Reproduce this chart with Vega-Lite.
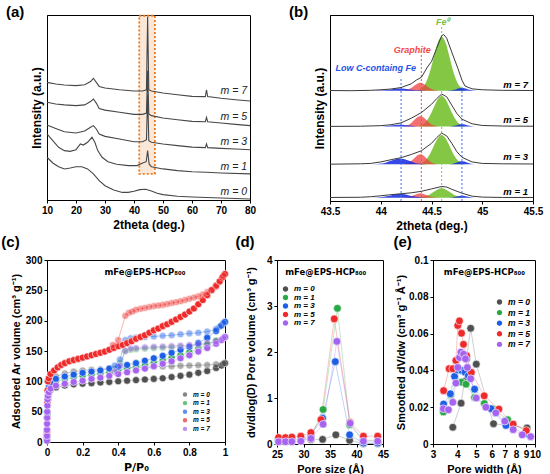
{
  "$schema": "https://vega.github.io/schema/vega-lite/v6.json",
  "background": "white",
  "padding": {"left": 0, "top": 4, "right": 2, "bottom": 0},
  "config": {
    "font": "Liberation Sans",
    "view": {"stroke": "#000", "strokeWidth": 1},
    "axis": {"grid": false, "domainColor": "#000", "tickColor": "#000", "labelColor": "#000", "titleColor": "#000",
      "labelFontWeight": "bold", "titleFontWeight": "bold", "labelFontSize": 10, "titleFontSize": 12, "tickSize": 3,
      "labelOverlap": false, "labelFlush": false, "labelBound": false, "minExtent": 0},
    "axisX": {"labelFlush": false, "labelOverlap": false},
    "axisY": {"minExtent": 0, "labelOverlap": false},
    "title": {"anchor": "start", "frame": "bounds", "fontSize": 15, "fontWeight": "bold", "color": "#000"},
    "legend": {"labelFontWeight": "bold", "labelFontStyle": "italic", "labelColor": "#000", "symbolType": "circle", "title": null, "padding": 0}
  },
  "datasets": {
    "box": [{"x1": 41.8, "x2": 47.2, "y1": 14.1, "y2": 99.6}],
    "xrd": [
      {"s":"7","x":10,"y":63.6},{"s":"7","x":13,"y":62.7},{"s":"7","x":16,"y":62.2},{"s":"7","x":20,"y":61.8},{"s":"7","x":23,"y":62.3},{"s":"7","x":25,"y":64.0},{"s":"7","x":26,"y":65.8},{"s":"7","x":27,"y":63.6},{"s":"7","x":28,"y":61.4},{"s":"7","x":30,"y":60.5},{"s":"7","x":35,"y":59.6},{"s":"7","x":40,"y":58.9},{"s":"7","x":43,"y":58.9},{"s":"7","x":44.3,"y":59.6},{"s":"7","x":44.7,"y":99},{"s":"7","x":45.1,"y":59.6},{"s":"7","x":46,"y":58.9},{"s":"7","x":50,"y":57.8},{"s":"7","x":55,"y":56.9},{"s":"7","x":60,"y":56.0},{"s":"7","x":64.6,"y":55.9},{"s":"7","x":65,"y":59.6},{"s":"7","x":65.4,"y":55.9},{"s":"7","x":70,"y":55.0},{"s":"7","x":75,"y":54.2},{"s":"7","x":80,"y":53.5},
      {"s":"5","x":10,"y":52.8},{"s":"5","x":13,"y":51.9},{"s":"5","x":16,"y":51.4},{"s":"5","x":20,"y":51},{"s":"5","x":23,"y":51.4},{"s":"5","x":25,"y":53.2},{"s":"5","x":26,"y":54.6},{"s":"5","x":27,"y":52.4},{"s":"5","x":28,"y":49.5},{"s":"5","x":30,"y":48.6},{"s":"5","x":35,"y":47.4},{"s":"5","x":40,"y":46.3},{"s":"5","x":43,"y":46.3},{"s":"5","x":44.3,"y":47},{"s":"5","x":44.7,"y":70},{"s":"5","x":45.1,"y":46.5},{"s":"5","x":46,"y":45.6},{"s":"5","x":50,"y":44.3},{"s":"5","x":55,"y":43.4},{"s":"5","x":60,"y":42.5},{"s":"5","x":64.6,"y":42.3},{"s":"5","x":65,"y":44.7},{"s":"5","x":65.4,"y":42.3},{"s":"5","x":70,"y":41.6},{"s":"5","x":75,"y":40.9},{"s":"5","x":80,"y":40.2},
      {"s":"3","x":10,"y":40.5},{"s":"3","x":13,"y":38.7},{"s":"3","x":16,"y":36.9},{"s":"3","x":20,"y":36.2},{"s":"3","x":23,"y":37.3},{"s":"3","x":25,"y":39.3},{"s":"3","x":26,"y":40.2},{"s":"3","x":27,"y":38.4},{"s":"3","x":28,"y":35.7},{"s":"3","x":30,"y":34.4},{"s":"3","x":35,"y":33},{"s":"3","x":40,"y":31.5},{"s":"3","x":43,"y":31.5},{"s":"3","x":44.3,"y":32.6},{"s":"3","x":44.7,"y":57},{"s":"3","x":45.1,"y":32.1},{"s":"3","x":46,"y":31.2},{"s":"3","x":50,"y":30.3},{"s":"3","x":55,"y":29.4},{"s":"3","x":60,"y":28.6},{"s":"3","x":64.6,"y":28.3},{"s":"3","x":65,"y":30.3},{"s":"3","x":65.4,"y":28.3},{"s":"3","x":70,"y":27.9},{"s":"3","x":75,"y":27.6},{"s":"3","x":80,"y":27.2},
      {"s":"1","x":10,"y":35.7},{"s":"1","x":12,"y":32.1},{"s":"1","x":14,"y":28.5},{"s":"1","x":16,"y":26.7},{"s":"1","x":18,"y":26.3},{"s":"1","x":20,"y":27.2},{"s":"1","x":21.5,"y":30.3},{"s":"1","x":22.5,"y":29.7},{"s":"1","x":24,"y":31.2},{"s":"1","x":25.5,"y":33.9},{"s":"1","x":26.5,"y":31.2},{"s":"1","x":27.5,"y":26.7},{"s":"1","x":29,"y":23.1},{"s":"1","x":31,"y":20.7},{"s":"1","x":34,"y":19.3},{"s":"1","x":38,"y":18.6},{"s":"1","x":41,"y":18.6},{"s":"1","x":43,"y":20},{"s":"1","x":44.2,"y":20.7},{"s":"1","x":44.7,"y":26.7},{"s":"1","x":45.2,"y":19.5},{"s":"1","x":46,"y":18},{"s":"1","x":50,"y":16.8},{"s":"1","x":55,"y":15.9},{"s":"1","x":60,"y":15.3},{"s":"1","x":65,"y":15},{"s":"1","x":70,"y":14.6},{"s":"1","x":80,"y":14.1},
      {"s":"0","x":10,"y":23.1},{"s":"0","x":12,"y":20},{"s":"0","x":14,"y":18},{"s":"0","x":16,"y":16.8},{"s":"0","x":18,"y":17.3},{"s":"0","x":20,"y":18},{"s":"0","x":22,"y":18},{"s":"0","x":24,"y":16.8},{"s":"0","x":26,"y":14.1},{"s":"0","x":28,"y":10.5},{"s":"0","x":30,"y":7.7},{"s":"0","x":33,"y":5.4},{"s":"0","x":36,"y":4.1},{"s":"0","x":38,"y":4.1},{"s":"0","x":40,"y":4.7},{"s":"0","x":42,"y":5.6},{"s":"0","x":44,"y":5.8},{"s":"0","x":46,"y":4.9},{"s":"0","x":48,"y":3.6},{"s":"0","x":50,"y":2.9},{"s":"0","x":55,"y":2},{"s":"0","x":60,"y":1.6},{"s":"0","x":70,"y":1.1},{"s":"0","x":80,"y":0.5}
    ],
    "xrdlab": [
      {"t":"m = 7","x":79,"y":59.1},{"t":"m = 5","x":79,"y":44.7},{"t":"m = 3","x":79,"y":31.5},{"t":"m = 1","x":79,"y":17.7},{"t":"m = 0","x":79,"y":4.5}
    ],
    "fit": [
      {"m":"7","c":"g","x":44.36,"y":59.3,"b":59.3},{"m":"7","c":"g","x":44.44,"y":63.2,"b":59.3},{"m":"7","c":"g","x":44.48,"y":68.7,"b":59.3},{"m":"7","c":"g","x":44.52,"y":76.9,"b":59.3},{"m":"7","c":"g","x":44.56,"y":84.9,"b":59.3},{"m":"7","c":"g","x":44.6,"y":88.3,"b":59.3},{"m":"7","c":"g","x":44.64,"y":84.9,"b":59.3},{"m":"7","c":"g","x":44.68,"y":76.9,"b":59.3},{"m":"7","c":"g","x":44.72,"y":68.7,"b":59.3},{"m":"7","c":"g","x":44.76,"y":63.2,"b":59.3},{"m":"7","c":"g","x":44.84,"y":59.3,"b":59.3},
      {"m":"7","c":"r","x":44.21,"y":59.3,"b":59.3},{"m":"7","c":"r","x":44.27,"y":59.9,"b":59.3},{"m":"7","c":"r","x":44.3,"y":60.7,"b":59.3},{"m":"7","c":"r","x":44.33,"y":61.9,"b":59.3},{"m":"7","c":"r","x":44.36,"y":63.1,"b":59.3},{"m":"7","c":"r","x":44.39,"y":63.6,"b":59.3},{"m":"7","c":"r","x":44.42,"y":63.1,"b":59.3},{"m":"7","c":"r","x":44.45,"y":61.9,"b":59.3},{"m":"7","c":"r","x":44.48,"y":60.7,"b":59.3},{"m":"7","c":"r","x":44.51,"y":59.9,"b":59.3},{"m":"7","c":"r","x":44.57,"y":59.3,"b":59.3},
      {"m":"7","c":"b1","x":43.92,"y":59.3,"b":59.3},{"m":"7","c":"b1","x":44.01,"y":59.5,"b":59.3},{"m":"7","c":"b1","x":44.055,"y":59.7,"b":59.3},{"m":"7","c":"b1","x":44.1,"y":60.0,"b":59.3},{"m":"7","c":"b1","x":44.145,"y":60.4,"b":59.3},{"m":"7","c":"b1","x":44.19,"y":60.5,"b":59.3},{"m":"7","c":"b1","x":44.235,"y":60.4,"b":59.3},{"m":"7","c":"b1","x":44.28,"y":60.0,"b":59.3},{"m":"7","c":"b1","x":44.325,"y":59.7,"b":59.3},{"m":"7","c":"b1","x":44.37,"y":59.5,"b":59.3},{"m":"7","c":"b1","x":44.46,"y":59.3,"b":59.3},
      {"m":"7","c":"b2","x":44.65,"y":59.3,"b":59.3},{"m":"7","c":"b2","x":44.7,"y":59.5,"b":59.3},{"m":"7","c":"b2","x":44.725,"y":59.8,"b":59.3},{"m":"7","c":"b2","x":44.75,"y":60.2,"b":59.3},{"m":"7","c":"b2","x":44.775,"y":60.6,"b":59.3},{"m":"7","c":"b2","x":44.8,"y":60.8,"b":59.3},{"m":"7","c":"b2","x":44.825,"y":60.6,"b":59.3},{"m":"7","c":"b2","x":44.85,"y":60.2,"b":59.3},{"m":"7","c":"b2","x":44.875,"y":59.8,"b":59.3},{"m":"7","c":"b2","x":44.9,"y":59.5,"b":59.3},{"m":"7","c":"b2","x":44.95,"y":59.3,"b":59.3},
      {"m":"5","c":"g","x":44.36,"y":40,"b":40},{"m":"5","c":"g","x":44.44,"y":42.2,"b":40},{"m":"5","c":"g","x":44.48,"y":45.4,"b":40},{"m":"5","c":"g","x":44.52,"y":50.0,"b":40},{"m":"5","c":"g","x":44.56,"y":54.6,"b":40},{"m":"5","c":"g","x":44.6,"y":56.5,"b":40},{"m":"5","c":"g","x":44.64,"y":54.6,"b":40},{"m":"5","c":"g","x":44.68,"y":50.0,"b":40},{"m":"5","c":"g","x":44.72,"y":45.4,"b":40},{"m":"5","c":"g","x":44.76,"y":42.2,"b":40},{"m":"5","c":"g","x":44.84,"y":40,"b":40},
      {"m":"5","c":"r","x":44.21,"y":40,"b":40},{"m":"5","c":"r","x":44.27,"y":40.8,"b":40},{"m":"5","c":"r","x":44.3,"y":41.9,"b":40},{"m":"5","c":"r","x":44.33,"y":43.5,"b":40},{"m":"5","c":"r","x":44.36,"y":45.0,"b":40},{"m":"5","c":"r","x":44.39,"y":45.7,"b":40},{"m":"5","c":"r","x":44.42,"y":45.0,"b":40},{"m":"5","c":"r","x":44.45,"y":43.5,"b":40},{"m":"5","c":"r","x":44.48,"y":41.9,"b":40},{"m":"5","c":"r","x":44.51,"y":40.8,"b":40},{"m":"5","c":"r","x":44.57,"y":40,"b":40},
      {"m":"5","c":"b1","x":43.92,"y":40,"b":40},{"m":"5","c":"b1","x":44.01,"y":40.1,"b":40},{"m":"5","c":"b1","x":44.055,"y":40.3,"b":40},{"m":"5","c":"b1","x":44.1,"y":40.6,"b":40},{"m":"5","c":"b1","x":44.145,"y":40.9,"b":40},{"m":"5","c":"b1","x":44.19,"y":41,"b":40},{"m":"5","c":"b1","x":44.235,"y":40.9,"b":40},{"m":"5","c":"b1","x":44.28,"y":40.6,"b":40},{"m":"5","c":"b1","x":44.325,"y":40.3,"b":40},{"m":"5","c":"b1","x":44.37,"y":40.1,"b":40},{"m":"5","c":"b1","x":44.46,"y":40,"b":40},
      {"m":"5","c":"b2","x":44.65,"y":40,"b":40},{"m":"5","c":"b2","x":44.7,"y":40.2,"b":40},{"m":"5","c":"b2","x":44.725,"y":40.4,"b":40},{"m":"5","c":"b2","x":44.75,"y":40.7,"b":40},{"m":"5","c":"b2","x":44.775,"y":41.1,"b":40},{"m":"5","c":"b2","x":44.8,"y":41.2,"b":40},{"m":"5","c":"b2","x":44.825,"y":41.1,"b":40},{"m":"5","c":"b2","x":44.85,"y":40.7,"b":40},{"m":"5","c":"b2","x":44.875,"y":40.4,"b":40},{"m":"5","c":"b2","x":44.9,"y":40.2,"b":40},{"m":"5","c":"b2","x":44.95,"y":40,"b":40},
      {"m":"3","c":"g","x":44.36,"y":19.7,"b":19.7},{"m":"3","c":"g","x":44.44,"y":21.8,"b":19.7},{"m":"3","c":"g","x":44.48,"y":24.8,"b":19.7},{"m":"3","c":"g","x":44.52,"y":29.3,"b":19.7},{"m":"3","c":"g","x":44.56,"y":33.6,"b":19.7},{"m":"3","c":"g","x":44.6,"y":35.5,"b":19.7},{"m":"3","c":"g","x":44.64,"y":33.6,"b":19.7},{"m":"3","c":"g","x":44.68,"y":29.3,"b":19.7},{"m":"3","c":"g","x":44.72,"y":24.8,"b":19.7},{"m":"3","c":"g","x":44.76,"y":21.8,"b":19.7},{"m":"3","c":"g","x":44.84,"y":19.7,"b":19.7},
      {"m":"3","c":"r","x":44.21,"y":19.7,"b":19.7},{"m":"3","c":"r","x":44.27,"y":20.4,"b":19.7},{"m":"3","c":"r","x":44.3,"y":21.5,"b":19.7},{"m":"3","c":"r","x":44.33,"y":23.0,"b":19.7},{"m":"3","c":"r","x":44.36,"y":24.5,"b":19.7},{"m":"3","c":"r","x":44.39,"y":25.1,"b":19.7},{"m":"3","c":"r","x":44.42,"y":24.5,"b":19.7},{"m":"3","c":"r","x":44.45,"y":23.0,"b":19.7},{"m":"3","c":"r","x":44.48,"y":21.5,"b":19.7},{"m":"3","c":"r","x":44.51,"y":20.4,"b":19.7},{"m":"3","c":"r","x":44.57,"y":19.7,"b":19.7},
      {"m":"3","c":"b1","x":43.92,"y":19.7,"b":19.7},{"m":"3","c":"b1","x":44.01,"y":20.1,"b":19.7},{"m":"3","c":"b1","x":44.055,"y":20.7,"b":19.7},{"m":"3","c":"b1","x":44.1,"y":21.6,"b":19.7},{"m":"3","c":"b1","x":44.145,"y":22.5,"b":19.7},{"m":"3","c":"b1","x":44.19,"y":22.9,"b":19.7},{"m":"3","c":"b1","x":44.235,"y":22.5,"b":19.7},{"m":"3","c":"b1","x":44.28,"y":21.6,"b":19.7},{"m":"3","c":"b1","x":44.325,"y":20.7,"b":19.7},{"m":"3","c":"b1","x":44.37,"y":20.1,"b":19.7},{"m":"3","c":"b1","x":44.46,"y":19.7,"b":19.7},
      {"m":"3","c":"b2","x":44.65,"y":19.7,"b":19.7},{"m":"3","c":"b2","x":44.7,"y":19.9,"b":19.7},{"m":"3","c":"b2","x":44.725,"y":20.3,"b":19.7},{"m":"3","c":"b2","x":44.75,"y":20.7,"b":19.7},{"m":"3","c":"b2","x":44.775,"y":21.2,"b":19.7},{"m":"3","c":"b2","x":44.8,"y":21.4,"b":19.7},{"m":"3","c":"b2","x":44.825,"y":21.2,"b":19.7},{"m":"3","c":"b2","x":44.85,"y":20.7,"b":19.7},{"m":"3","c":"b2","x":44.875,"y":20.3,"b":19.7},{"m":"3","c":"b2","x":44.9,"y":19.9,"b":19.7},{"m":"3","c":"b2","x":44.95,"y":19.7,"b":19.7},
      {"m":"1","c":"g","x":44.36,"y":1.8,"b":1.8},{"m":"1","c":"g","x":44.44,"y":2.5,"b":1.8},{"m":"1","c":"g","x":44.48,"y":3.4,"b":1.8},{"m":"1","c":"g","x":44.52,"y":4.8,"b":1.8},{"m":"1","c":"g","x":44.56,"y":6.2,"b":1.8},{"m":"1","c":"g","x":44.6,"y":6.8,"b":1.8},{"m":"1","c":"g","x":44.64,"y":6.2,"b":1.8},{"m":"1","c":"g","x":44.68,"y":4.8,"b":1.8},{"m":"1","c":"g","x":44.72,"y":3.4,"b":1.8},{"m":"1","c":"g","x":44.76,"y":2.5,"b":1.8},{"m":"1","c":"g","x":44.84,"y":1.8,"b":1.8},
      {"m":"1","c":"r","x":44.21,"y":1.8,"b":1.8},{"m":"1","c":"r","x":44.27,"y":2.1,"b":1.8},{"m":"1","c":"r","x":44.3,"y":2.6,"b":1.8},{"m":"1","c":"r","x":44.33,"y":3.2,"b":1.8},{"m":"1","c":"r","x":44.36,"y":3.8,"b":1.8},{"m":"1","c":"r","x":44.39,"y":4.1,"b":1.8},{"m":"1","c":"r","x":44.42,"y":3.8,"b":1.8},{"m":"1","c":"r","x":44.45,"y":3.2,"b":1.8},{"m":"1","c":"r","x":44.48,"y":2.6,"b":1.8},{"m":"1","c":"r","x":44.51,"y":2.1,"b":1.8},{"m":"1","c":"r","x":44.57,"y":1.8,"b":1.8},
      {"m":"1","c":"b1","x":43.92,"y":1.8,"b":1.8},{"m":"1","c":"b1","x":44.01,"y":2.1,"b":1.8},{"m":"1","c":"b1","x":44.055,"y":2.5,"b":1.8},{"m":"1","c":"b1","x":44.1,"y":3.0,"b":1.8},{"m":"1","c":"b1","x":44.145,"y":3.6,"b":1.8},{"m":"1","c":"b1","x":44.19,"y":3.8,"b":1.8},{"m":"1","c":"b1","x":44.235,"y":3.6,"b":1.8},{"m":"1","c":"b1","x":44.28,"y":3.0,"b":1.8},{"m":"1","c":"b1","x":44.325,"y":2.5,"b":1.8},{"m":"1","c":"b1","x":44.37,"y":2.1,"b":1.8},{"m":"1","c":"b1","x":44.46,"y":1.8,"b":1.8},
      {"m":"1","c":"b2","x":44.65,"y":1.8,"b":1.8},{"m":"1","c":"b2","x":44.7,"y":1.9,"b":1.8},{"m":"1","c":"b2","x":44.725,"y":2.1,"b":1.8},{"m":"1","c":"b2","x":44.75,"y":2.4,"b":1.8},{"m":"1","c":"b2","x":44.775,"y":2.7,"b":1.8},{"m":"1","c":"b2","x":44.8,"y":2.8,"b":1.8},{"m":"1","c":"b2","x":44.825,"y":2.7,"b":1.8},{"m":"1","c":"b2","x":44.85,"y":2.4,"b":1.8},{"m":"1","c":"b2","x":44.875,"y":2.1,"b":1.8},{"m":"1","c":"b2","x":44.9,"y":1.9,"b":1.8},{"m":"1","c":"b2","x":44.95,"y":1.8,"b":1.8}
    ],
    "meas": [
      {"m":"7","x":43.5,"y":59.4},{"m":"7","x":43.7,"y":59.3},{"m":"7","x":43.9,"y":59.5},{"m":"7","x":44.0,"y":59.8},{"m":"7","x":44.1,"y":60.2},{"m":"7","x":44.2,"y":61.0},{"m":"7","x":44.3,"y":63.0},{"m":"7","x":44.35,"y":65},{"m":"7","x":44.4,"y":66.5},{"m":"7","x":44.46,"y":72},{"m":"7","x":44.5,"y":75},{"m":"7","x":44.55,"y":82},{"m":"7","x":44.6,"y":88.8},{"m":"7","x":44.62,"y":89.5},{"m":"7","x":44.65,"y":87.5},{"m":"7","x":44.7,"y":80},{"m":"7","x":44.76,"y":71.3},{"m":"7","x":44.8,"y":65},{"m":"7","x":44.83,"y":61.8},{"m":"7","x":44.9,"y":60.3},{"m":"7","x":45.0,"y":59.8},{"m":"7","x":45.2,"y":59.5},{"m":"7","x":45.5,"y":59.4},
      {"m":"5","x":43.5,"y":40.1},{"m":"5","x":43.8,"y":40.2},{"m":"5","x":44.0,"y":40.5},{"m":"5","x":44.1,"y":41},{"m":"5","x":44.2,"y":42},{"m":"5","x":44.3,"y":44.5},{"m":"5","x":44.4,"y":47.5},{"m":"5","x":44.5,"y":52},{"m":"5","x":44.55,"y":55},{"m":"5","x":44.6,"y":57.5},{"m":"5","x":44.65,"y":56},{"m":"5","x":44.7,"y":51.5},{"m":"5","x":44.75,"y":47},{"m":"5","x":44.8,"y":44},{"m":"5","x":44.9,"y":41.5},{"m":"5","x":45.0,"y":40.6},{"m":"5","x":45.2,"y":40.3},{"m":"5","x":45.5,"y":40.2},
      {"m":"3","x":43.5,"y":19.8},{"m":"3","x":43.8,"y":20},{"m":"3","x":43.9,"y":20.2},{"m":"3","x":44.0,"y":21},{"m":"3","x":44.1,"y":22.2},{"m":"3","x":44.2,"y":23.3},{"m":"3","x":44.3,"y":25},{"m":"3","x":44.4,"y":27},{"m":"3","x":44.5,"y":31},{"m":"3","x":44.55,"y":34},{"m":"3","x":44.6,"y":36.5},{"m":"3","x":44.65,"y":35},{"m":"3","x":44.7,"y":31},{"m":"3","x":44.75,"y":26.5},{"m":"3","x":44.8,"y":23.5},{"m":"3","x":44.9,"y":21},{"m":"3","x":45.0,"y":20.2},{"m":"3","x":45.2,"y":20},{"m":"3","x":45.5,"y":19.9},
      {"m":"1","x":43.5,"y":1.9},{"m":"1","x":43.8,"y":2.0},{"m":"1","x":43.9,"y":2.3},{"m":"1","x":44.0,"y":2.8},{"m":"1","x":44.1,"y":3.4},{"m":"1","x":44.2,"y":3.9},{"m":"1","x":44.3,"y":4.4},{"m":"1","x":44.4,"y":5.2},{"m":"1","x":44.5,"y":6.5},{"m":"1","x":44.6,"y":7.8},{"m":"1","x":44.65,"y":7.5},{"m":"1","x":44.7,"y":6.3},{"m":"1","x":44.8,"y":4.2},{"m":"1","x":44.9,"y":2.6},{"m":"1","x":45.0,"y":2.1},{"m":"1","x":45.2,"y":1.9},{"m":"1","x":45.5,"y":1.9}
    ],
    "vl": [
      {"x":44.2,"y1":0,"y2":66.8,"c":"#3b6ff0"},{"x":44.4,"y1":0,"y2":79.4,"c":"#f04f4f"},{"x":44.6,"y1":0,"y2":93.7,"c":"#8cc63f"},{"x":44.8,"y1":0,"y2":61.5,"c":"#3b6ff0"}
    ],
    "blab": [
      {"t":"Low C-containg Fe","x":43.95,"y":71.3,"c":"#2453ea"},{"t":"Graphite","x":44.31,"y":81.2,"c":"#f04848"},{"t":"Fe⁰","x":44.61,"y":96.4,"c":"#78c13a"}
    ],
    "mlab": [
      {"t":"m = 7","x":45.45,"y":62.4},{"t":"m = 5","x":45.45,"y":43.5},{"t":"m = 3","x":45.45,"y":23.8},{"t":"m = 1","x":45.45,"y":4.7}
    ],
    "iso": [
      {"s":"0","b":"a","x":0,"y":5},{"s":"0","b":"a","x":0,"y":20},{"s":"0","b":"a","x":0.001,"y":40},{"s":"0","b":"a","x":0.003,"y":60},{"s":"0","b":"a","x":0.005,"y":70},{"s":"0","b":"a","x":0.01,"y":80},{"s":"0","b":"a","x":0.02,"y":86},{"s":"0","b":"a","x":0.05,"y":90},{"s":"0","b":"a","x":0.1,"y":93},{"s":"0","b":"a","x":0.15,"y":95},{"s":"0","b":"a","x":0.2,"y":96},{"s":"0","b":"a","x":0.25,"y":97},{"s":"0","b":"a","x":0.3,"y":98},{"s":"0","b":"a","x":0.35,"y":99},{"s":"0","b":"a","x":0.4,"y":100},{"s":"0","b":"a","x":0.45,"y":101},{"s":"0","b":"a","x":0.5,"y":102},{"s":"0","b":"a","x":0.55,"y":103},{"s":"0","b":"a","x":0.6,"y":104},{"s":"0","b":"a","x":0.65,"y":105},{"s":"0","b":"a","x":0.7,"y":107},{"s":"0","b":"a","x":0.75,"y":109},{"s":"0","b":"a","x":0.8,"y":111},{"s":"0","b":"a","x":0.85,"y":114},{"s":"0","b":"a","x":0.9,"y":117},{"s":"0","b":"a","x":0.95,"y":122},{"s":"0","b":"a","x":0.98,"y":126},{"s":"0","b":"a","x":1.0,"y":130},
      {"s":"0","b":"d","x":0.99,"y":129},{"s":"0","b":"d","x":0.95,"y":128},{"s":"0","b":"d","x":0.9,"y":127},{"s":"0","b":"d","x":0.85,"y":126.5},{"s":"0","b":"d","x":0.8,"y":126},{"s":"0","b":"d","x":0.75,"y":125.5},{"s":"0","b":"d","x":0.7,"y":125},{"s":"0","b":"d","x":0.65,"y":124.5},{"s":"0","b":"d","x":0.6,"y":124},{"s":"0","b":"d","x":0.55,"y":123.5},{"s":"0","b":"d","x":0.5,"y":123},{"s":"0","b":"d","x":0.45,"y":122.5},{"s":"0","b":"d","x":0.4,"y":122},{"s":"0","b":"d","x":0.35,"y":121},{"s":"0","b":"d","x":0.3,"y":120},{"s":"0","b":"d","x":0.25,"y":119},{"s":"0","b":"d","x":0.2,"y":118},{"s":"0","b":"d","x":0.15,"y":116},{"s":"0","b":"d","x":0.1,"y":113},{"s":"0","b":"d","x":0.05,"y":108},{"s":"0","b":"d","x":0.02,"y":103},
      {"s":"1","b":"a","x":0,"y":10},{"s":"1","b":"a","x":0.002,"y":45},{"s":"1","b":"a","x":0.005,"y":70},{"s":"1","b":"a","x":0.01,"y":85},{"s":"1","b":"a","x":0.02,"y":93},{"s":"1","b":"a","x":0.05,"y":100},{"s":"1","b":"a","x":0.1,"y":104},{"s":"1","b":"a","x":0.15,"y":107},{"s":"1","b":"a","x":0.2,"y":109},{"s":"1","b":"a","x":0.25,"y":111},{"s":"1","b":"a","x":0.3,"y":113},{"s":"1","b":"a","x":0.35,"y":115},{"s":"1","b":"a","x":0.4,"y":118},{"s":"1","b":"a","x":0.45,"y":121},{"s":"1","b":"a","x":0.5,"y":124},{"s":"1","b":"a","x":0.55,"y":127},{"s":"1","b":"a","x":0.6,"y":131},{"s":"1","b":"a","x":0.65,"y":135},{"s":"1","b":"a","x":0.7,"y":139},{"s":"1","b":"a","x":0.75,"y":143},{"s":"1","b":"a","x":0.8,"y":148},{"s":"1","b":"a","x":0.85,"y":154},{"s":"1","b":"a","x":0.9,"y":160},{"s":"1","b":"a","x":0.95,"y":167},{"s":"1","b":"a","x":1.0,"y":173},
      {"s":"1","b":"d","x":0.95,"y":166},{"s":"1","b":"d","x":0.9,"y":162},{"s":"1","b":"d","x":0.85,"y":160},{"s":"1","b":"d","x":0.8,"y":158},{"s":"1","b":"d","x":0.75,"y":157},{"s":"1","b":"d","x":0.7,"y":156},{"s":"1","b":"d","x":0.65,"y":155.5},{"s":"1","b":"d","x":0.6,"y":155},{"s":"1","b":"d","x":0.55,"y":154},{"s":"1","b":"d","x":0.5,"y":153},{"s":"1","b":"d","x":0.47,"y":152},{"s":"1","b":"d","x":0.44,"y":150},{"s":"1","b":"d","x":0.41,"y":130},{"s":"1","b":"d","x":0.38,"y":121},
      {"s":"3","b":"a","x":0,"y":10},{"s":"3","b":"a","x":0.002,"y":50},{"s":"3","b":"a","x":0.005,"y":75},{"s":"3","b":"a","x":0.01,"y":90},{"s":"3","b":"a","x":0.02,"y":97},{"s":"3","b":"a","x":0.05,"y":104},{"s":"3","b":"a","x":0.1,"y":108},{"s":"3","b":"a","x":0.15,"y":111},{"s":"3","b":"a","x":0.2,"y":114},{"s":"3","b":"a","x":0.25,"y":116},{"s":"3","b":"a","x":0.3,"y":118},{"s":"3","b":"a","x":0.35,"y":121},{"s":"3","b":"a","x":0.4,"y":124},{"s":"3","b":"a","x":0.45,"y":127},{"s":"3","b":"a","x":0.5,"y":130},{"s":"3","b":"a","x":0.55,"y":134},{"s":"3","b":"a","x":0.6,"y":138},{"s":"3","b":"a","x":0.65,"y":142},{"s":"3","b":"a","x":0.7,"y":147},{"s":"3","b":"a","x":0.75,"y":152},{"s":"3","b":"a","x":0.8,"y":157},{"s":"3","b":"a","x":0.85,"y":163},{"s":"3","b":"a","x":0.9,"y":172},{"s":"3","b":"a","x":0.95,"y":183},{"s":"3","b":"a","x":0.98,"y":192},{"s":"3","b":"a","x":1.0,"y":198},
      {"s":"3","b":"d","x":0.99,"y":196},{"s":"3","b":"d","x":0.97,"y":190},{"s":"3","b":"d","x":0.95,"y":186},{"s":"3","b":"d","x":0.9,"y":182},{"s":"3","b":"d","x":0.85,"y":180},{"s":"3","b":"d","x":0.8,"y":179},{"s":"3","b":"d","x":0.75,"y":177.5},{"s":"3","b":"d","x":0.7,"y":176},{"s":"3","b":"d","x":0.65,"y":175},{"s":"3","b":"d","x":0.6,"y":174},{"s":"3","b":"d","x":0.55,"y":173},{"s":"3","b":"d","x":0.5,"y":172},{"s":"3","b":"d","x":0.47,"y":171},{"s":"3","b":"d","x":0.44,"y":168},{"s":"3","b":"d","x":0.41,"y":136},{"s":"3","b":"d","x":0.38,"y":126},
      {"s":"5","b":"a","x":0,"y":15},{"s":"5","b":"a","x":0.001,"y":40},{"s":"5","b":"a","x":0.002,"y":65},{"s":"5","b":"a","x":0.003,"y":85},{"s":"5","b":"a","x":0.005,"y":100},{"s":"5","b":"a","x":0.01,"y":105},{"s":"5","b":"a","x":0.02,"y":112},{"s":"5","b":"a","x":0.04,"y":118},{"s":"5","b":"a","x":0.06,"y":123},{"s":"5","b":"a","x":0.08,"y":127},{"s":"5","b":"a","x":0.1,"y":130},{"s":"5","b":"a","x":0.125,"y":133},{"s":"5","b":"a","x":0.15,"y":135},{"s":"5","b":"a","x":0.175,"y":137},{"s":"5","b":"a","x":0.2,"y":139},{"s":"5","b":"a","x":0.225,"y":141},{"s":"5","b":"a","x":0.25,"y":143},{"s":"5","b":"a","x":0.275,"y":145},{"s":"5","b":"a","x":0.3,"y":147},{"s":"5","b":"a","x":0.325,"y":149},{"s":"5","b":"a","x":0.35,"y":152},{"s":"5","b":"a","x":0.375,"y":155},{"s":"5","b":"a","x":0.4,"y":158},{"s":"5","b":"a","x":0.425,"y":160},{"s":"5","b":"a","x":0.45,"y":163},{"s":"5","b":"a","x":0.475,"y":166},{"s":"5","b":"a","x":0.5,"y":170},{"s":"5","b":"a","x":0.525,"y":173},{"s":"5","b":"a","x":0.55,"y":176},{"s":"5","b":"a","x":0.575,"y":180},{"s":"5","b":"a","x":0.6,"y":184},{"s":"5","b":"a","x":0.625,"y":187},{"s":"5","b":"a","x":0.65,"y":191},{"s":"5","b":"a","x":0.675,"y":194},{"s":"5","b":"a","x":0.7,"y":198},{"s":"5","b":"a","x":0.725,"y":202},{"s":"5","b":"a","x":0.75,"y":206},{"s":"5","b":"a","x":0.775,"y":210},{"s":"5","b":"a","x":0.8,"y":215},{"s":"5","b":"a","x":0.825,"y":220},{"s":"5","b":"a","x":0.85,"y":227},{"s":"5","b":"a","x":0.875,"y":234},{"s":"5","b":"a","x":0.9,"y":242},{"s":"5","b":"a","x":0.925,"y":250},{"s":"5","b":"a","x":0.95,"y":258},{"s":"5","b":"a","x":0.97,"y":265},{"s":"5","b":"a","x":0.985,"y":271},{"s":"5","b":"a","x":1.0,"y":277},
      {"s":"5","b":"d","x":0.99,"y":274},{"s":"5","b":"d","x":0.97,"y":264},{"s":"5","b":"d","x":0.95,"y":256},{"s":"5","b":"d","x":0.925,"y":251},{"s":"5","b":"d","x":0.9,"y":247},{"s":"5","b":"d","x":0.875,"y":243},{"s":"5","b":"d","x":0.85,"y":240},{"s":"5","b":"d","x":0.825,"y":238},{"s":"5","b":"d","x":0.8,"y":236},{"s":"5","b":"d","x":0.775,"y":234},{"s":"5","b":"d","x":0.75,"y":232},{"s":"5","b":"d","x":0.725,"y":230.5},{"s":"5","b":"d","x":0.7,"y":229},{"s":"5","b":"d","x":0.675,"y":227.5},{"s":"5","b":"d","x":0.65,"y":226},{"s":"5","b":"d","x":0.625,"y":225},{"s":"5","b":"d","x":0.6,"y":224},{"s":"5","b":"d","x":0.575,"y":222.5},{"s":"5","b":"d","x":0.55,"y":221},{"s":"5","b":"d","x":0.525,"y":219.5},{"s":"5","b":"d","x":0.5,"y":218},{"s":"5","b":"d","x":0.48,"y":215},{"s":"5","b":"d","x":0.46,"y":213},{"s":"5","b":"d","x":0.44,"y":208},{"s":"5","b":"d","x":0.4,"y":168},{"s":"5","b":"d","x":0.37,"y":160},
      {"s":"7","b":"a","x":0,"y":2},{"s":"7","b":"a","x":0,"y":10},{"s":"7","b":"a","x":0,"y":20},{"s":"7","b":"a","x":0.0005,"y":30},{"s":"7","b":"a","x":0.001,"y":40},{"s":"7","b":"a","x":0.001,"y":50},{"s":"7","b":"a","x":0.002,"y":60},{"s":"7","b":"a","x":0.003,"y":70},{"s":"7","b":"a","x":0.005,"y":76},{"s":"7","b":"a","x":0.01,"y":82},{"s":"7","b":"a","x":0.02,"y":88},{"s":"7","b":"a","x":0.05,"y":93},{"s":"7","b":"a","x":0.1,"y":96},{"s":"7","b":"a","x":0.15,"y":99},{"s":"7","b":"a","x":0.2,"y":101},{"s":"7","b":"a","x":0.25,"y":104},{"s":"7","b":"a","x":0.3,"y":106},{"s":"7","b":"a","x":0.35,"y":109},{"s":"7","b":"a","x":0.4,"y":112},{"s":"7","b":"a","x":0.45,"y":115},{"s":"7","b":"a","x":0.5,"y":118},{"s":"7","b":"a","x":0.55,"y":121},{"s":"7","b":"a","x":0.6,"y":125},{"s":"7","b":"a","x":0.65,"y":129},{"s":"7","b":"a","x":0.7,"y":133},{"s":"7","b":"a","x":0.75,"y":138},{"s":"7","b":"a","x":0.8,"y":143},{"s":"7","b":"a","x":0.85,"y":149},{"s":"7","b":"a","x":0.9,"y":155},{"s":"7","b":"a","x":0.95,"y":162},{"s":"7","b":"a","x":0.98,"y":168},{"s":"7","b":"a","x":1.0,"y":173},
      {"s":"7","b":"d","x":0.99,"y":171},{"s":"7","b":"d","x":0.95,"y":166},{"s":"7","b":"d","x":0.9,"y":163},{"s":"7","b":"d","x":0.85,"y":161},{"s":"7","b":"d","x":0.8,"y":160},{"s":"7","b":"d","x":0.75,"y":159},{"s":"7","b":"d","x":0.7,"y":158},{"s":"7","b":"d","x":0.65,"y":157.5},{"s":"7","b":"d","x":0.6,"y":157},{"s":"7","b":"d","x":0.55,"y":156},{"s":"7","b":"d","x":0.5,"y":155},{"s":"7","b":"d","x":0.47,"y":154},{"s":"7","b":"d","x":0.44,"y":150},{"s":"7","b":"d","x":0.41,"y":126},{"s":"7","b":"d","x":0.38,"y":116}
    ],
    "bjh": [
      {"s":"0","x":25.3,"y":0.1},{"s":"0","x":26.6,"y":0.11},{"s":"0","x":27.8,"y":0.12},{"s":"0","x":29.5,"y":0.1},{"s":"0","x":31.4,"y":0.1},{"s":"0","x":33.6,"y":0.1},{"s":"0","x":36.1,"y":0.2},{"s":"0","x":38.7,"y":0.08},{"s":"0","x":41.3,"y":0.01},{"s":"0","x":44.0,"y":0.01},
      {"s":"1","x":25.3,"y":0.06},{"s":"1","x":26.6,"y":0.07},{"s":"1","x":27.8,"y":0.08},{"s":"1","x":29.5,"y":0.1},{"s":"1","x":31.4,"y":0.15},{"s":"1","x":33.7,"y":0.75},{"s":"1","x":36.4,"y":2.95},{"s":"1","x":38.7,"y":0.42},{"s":"1","x":41.3,"y":0.08},{"s":"1","x":44.0,"y":0.08},
      {"s":"3","x":25.3,"y":0.08},{"s":"3","x":26.6,"y":0.08},{"s":"3","x":27.8,"y":0.09},{"s":"3","x":29.5,"y":0.1},{"s":"3","x":31.4,"y":0.2},{"s":"3","x":33.6,"y":0.56},{"s":"3","x":36.0,"y":1.79},{"s":"3","x":38.7,"y":0.2},{"s":"3","x":41.3,"y":0.02},{"s":"3","x":44.0,"y":0.02},
      {"s":"5","x":25.3,"y":0.14},{"s":"5","x":26.6,"y":0.14},{"s":"5","x":27.8,"y":0.15},{"s":"5","x":29.5,"y":0.17},{"s":"5","x":31.4,"y":0.25},{"s":"5","x":33.3,"y":0.53},{"s":"5","x":35.8,"y":2.72},{"s":"5","x":38.8,"y":0.47},{"s":"5","x":41.3,"y":0.17},{"s":"5","x":44.0,"y":0.17},
      {"s":"7","x":25.3,"y":0.05},{"s":"7","x":26.6,"y":0.05},{"s":"7","x":27.8,"y":0.05},{"s":"7","x":29.5,"y":0.06},{"s":"7","x":31.4,"y":0.12},{"s":"7","x":33.7,"y":0.43},{"s":"7","x":36.3,"y":2.23},{"s":"7","x":38.8,"y":0.45},{"s":"7","x":41.3,"y":0.06},{"s":"7","x":44.0,"y":0.06}
    ],
    "hk": [
      {"s":"0","x":3.79,"y":0.0091},{"s":"0","x":4.18,"y":0.0222},{"s":"0","x":4.35,"y":0.034},{"s":"0","x":4.46,"y":0.0463},{"s":"0","x":4.68,"y":0.0629},{"s":"0","x":5.0,"y":0.0434},{"s":"0","x":6.13,"y":0.011},{"s":"0","x":9.1,"y":0.0087},
      {"s":"1","x":3.39,"y":0.0174},{"s":"1","x":3.7,"y":0.0268},{"s":"1","x":3.97,"y":0.0336},{"s":"1","x":4.2,"y":0.0336},{"s":"1","x":4.43,"y":0.0325},{"s":"1","x":4.9,"y":0.0253},{"s":"1","x":5.5,"y":0.022},{"s":"1","x":6.1,"y":0.019},{"s":"1","x":7.24,"y":0.0132},{"s":"1","x":9.0,"y":0.007},
      {"s":"3","x":3.4,"y":0.0217},{"s":"3","x":3.68,"y":0.0273},{"s":"3","x":3.87,"y":0.0367},{"s":"3","x":4.0,"y":0.0403},{"s":"3","x":4.2,"y":0.04},{"s":"3","x":4.38,"y":0.039},{"s":"3","x":4.55,"y":0.037},{"s":"3","x":4.9,"y":0.0298},{"s":"3","x":5.95,"y":0.0192},{"s":"3","x":7.1,"y":0.0101},{"s":"3","x":9.0,"y":0.0055},
      {"s":"5","x":3.4,"y":0.029},{"s":"5","x":3.63,"y":0.0409},{"s":"5","x":3.79,"y":0.0409},{"s":"5","x":3.93,"y":0.0454},{"s":"5","x":4.02,"y":0.0644},{"s":"5","x":4.1,"y":0.0669},{"s":"5","x":4.2,"y":0.0602},{"s":"5","x":4.3,"y":0.0542},{"s":"5","x":4.46,"y":0.048},{"s":"5","x":4.72,"y":0.0389},{"s":"5","x":5.49,"y":0.0262},{"s":"5","x":6.53,"y":0.019},{"s":"5","x":7.73,"y":0.0108},{"s":"5","x":9.02,"y":0.0073},
      {"s":"7","x":3.39,"y":0.0192},{"s":"7","x":3.6,"y":0.0186},{"s":"7","x":3.79,"y":0.0227},{"s":"7","x":3.93,"y":0.0331},{"s":"7","x":4.02,"y":0.0416},{"s":"7","x":4.1,"y":0.047},{"s":"7","x":4.17,"y":0.0499},{"s":"7","x":4.3,"y":0.0488},{"s":"7","x":4.4,"y":0.0463},{"s":"7","x":4.5,"y":0.0416},{"s":"7","x":4.68,"y":0.0355},{"s":"7","x":5.0,"y":0.025},{"s":"7","x":5.6,"y":0.02},{"s":"7","x":6.3,"y":0.0169},{"s":"7","x":7.0,"y":0.0124},{"s":"7","x":7.73,"y":0.0078},{"s":"7","x":8.6,"y":0.005},{"s":"7","x":9.5,"y":0.004}
    ]
  },
  "spacing": 2,
  "resolve": {"scale": {"x": "independent", "y": "independent", "color": "independent"}, "legend": {"color": "independent"}},
  "vconcat": [
    {
      "spacing": 31,
      "resolve": {"scale": {"x": "independent", "y": "independent", "color": "independent"}, "legend": {"color": "independent"}},
      "hconcat": [
        {
          "title": {"text": "(a)", "dx": -24, "offset": -5},
          "width": 203, "height": 185,
          "layer": [
            {"data": {"name": "box"},
             "mark": {"type": "rect", "fill": "#fbe7d8", "stroke": "#f07a1c", "strokeDash": [2, 2], "strokeWidth": 1.8},
             "encoding": {
               "x": {"field": "x1", "type": "quantitative", "scale": {"domain": [10, 80.0001], "nice": false}, "axis": {"title": "2theta (deg.)", "values": [10, 20, 30, 40, 50, 60, 70, 80], "tickCount": 20, "format": "d", "titlePadding": 4, "labelFlush": false, "labelOverlap": false}},
               "x2": {"field": "x2"},
               "y": {"field": "y1", "type": "quantitative", "scale": {"domain": [0, 100], "nice": false}, "axis": {"title": "Intensity (a.u.)", "labels": false, "ticks": false, "titlePadding": 4, "minExtent": 0}},
               "y2": {"field": "y2"}}},
            {"data": {"name": "xrd"},
             "mark": {"type": "line", "color": "#474747", "strokeWidth": 1.1},
             "encoding": {"x": {"field": "x", "type": "quantitative"}, "y": {"field": "y", "type": "quantitative"}, "detail": {"field": "s"}}},
            {"data": {"name": "xrdlab"},
             "mark": {"type": "text", "align": "right", "fontStyle": "italic", "fontSize": 10.5, "color": "#222"},
             "encoding": {"x": {"field": "x", "type": "quantitative"}, "y": {"field": "y", "type": "quantitative"}, "text": {"field": "t"}}}
          ]
        },
        {
          "title": {"text": "(b)", "dx": -24, "offset": -5},
          "width": 203, "height": 186,
          "layer": [
            {"data": {"name": "fit"},
             "transform": [{"filter": "datum.c == 'g'"}],
             "mark": {"type": "area", "color": "#7cc43a", "opacity": 0.95, "interpolate": "monotone"},
             "encoding": {
               "x": {"field": "x", "type": "quantitative", "scale": {"domain": [43.5, 45.5], "nice": false}, "axis": {"title": "2theta (deg.)", "values": [43.5, 44, 44.5, 45, 45.5], "tickCount": 20, "format": "~g", "titlePadding": 4, "labelFlush": false, "labelOverlap": false}},
               "y": {"field": "y", "type": "quantitative", "scale": {"domain": [0, 100], "nice": false}, "axis": {"title": "Intensity (a.u.)", "labels": false, "ticks": false, "titlePadding": 4, "minExtent": 0}},
               "y2": {"field": "b"},
               "detail": {"field": "m"}}},
            {"data": {"name": "fit"},
             "transform": [{"filter": "datum.c == 'r'"}],
             "mark": {"type": "area", "color": "#ee4040", "opacity": 0.75, "interpolate": "monotone"},
             "encoding": {"x": {"field": "x", "type": "quantitative"}, "y": {"field": "y", "type": "quantitative"}, "y2": {"field": "b"}, "detail": {"field": "m"}}},
            {"data": {"name": "fit"},
             "transform": [{"filter": "datum.c == 'b1' || datum.c == 'b2'"}],
             "mark": {"type": "area", "color": "#1228e0", "opacity": 0.85, "interpolate": "monotone"},
             "encoding": {"x": {"field": "x", "type": "quantitative"}, "y": {"field": "y", "type": "quantitative"}, "y2": {"field": "b"}, "detail": [{"field": "m"}, {"field": "c"}]}},
            {"data": {"name": "vl"},
             "mark": {"type": "rule", "strokeDash": [2, 2], "strokeWidth": 1},
             "encoding": {"x": {"field": "x", "type": "quantitative"}, "y": {"field": "y1", "type": "quantitative"}, "y2": {"field": "y2"}, "color": {"field": "c", "type": "nominal", "scale": null}}},
            {"data": {"name": "meas"},
             "mark": {"type": "line", "color": "#3a3a3a", "strokeWidth": 1},
             "encoding": {"x": {"field": "x", "type": "quantitative"}, "y": {"field": "y", "type": "quantitative"}, "detail": {"field": "m"}}},
            {"data": {"name": "blab"},
             "mark": {"type": "text", "fontStyle": "italic", "fontWeight": "bold", "fontSize": 9},
             "encoding": {"x": {"field": "x", "type": "quantitative"}, "y": {"field": "y", "type": "quantitative"}, "text": {"field": "t"}, "color": {"field": "c", "type": "nominal", "scale": null}}},
            {"data": {"name": "mlab"},
             "mark": {"type": "text", "fontStyle": "italic", "fontWeight": "bold", "fontSize": 9.5, "align": "right", "color": "#000"},
             "encoding": {"x": {"field": "x", "type": "quantitative"}, "y": {"field": "y", "type": "quantitative"}, "text": {"field": "t"}}}
          ]
        }
      ]
    },
    {
      "spacing": 3,
      "resolve": {"scale": {"x": "independent", "y": "independent", "color": "independent"}, "legend": {"color": "independent"}},
      "hconcat": [
        {
          "title": {"text": "(c)", "dx": -9, "offset": 5},
          "width": 178, "height": 182,
          "resolve": {"legend": {"color": "independent"}},
          "layer": [
            {"data": {"name": "iso"},
             "mark": {"type": "line", "strokeWidth": 0.7, "opacity": 0.5},
             "encoding": {
               "x": {"field": "x", "type": "quantitative", "scale": {"domain": [0, 1], "nice": false}, "axis": {"title": "P/P₀", "titleFont": "DejaVu Sans", "values": [0, 0.2, 0.4, 0.6, 0.8, 1], "tickCount": 20, "format": "~g", "titleFontSize": 11, "labelFlush": false, "labelOverlap": false}},
               "y": {"field": "y", "type": "quantitative", "scale": {"domain": [0, 300], "nice": false}, "axis": {"title": "Adsorbed Ar volume (cm³ g⁻¹)", "values": [0, 50, 100, 150, 200, 250, 300], "tickCount": 20, "format": "d", "titleFontSize": 11, "titlePadding": 4}},
               "color": {"field": "s", "type": "nominal", "scale": {"domain": ["0", "1", "3", "5", "7"], "range": ["#505050", "#27a844", "#1c5fe6", "#ee2a2a", "#a663f0"]}, "legend": null},
               "detail": {"field": "b"}}},
            {"data": {"name": "iso"},
             "mark": {"type": "point", "filled": true, "size": 50, "stroke": "#fff", "strokeWidth": 0.6},
             "encoding": {
               "x": {"field": "x", "type": "quantitative"},
               "y": {"field": "y", "type": "quantitative"},
               "color": {"field": "s", "type": "nominal", "legend": {"orient": "none", "legendX": 134, "legendY": 131, "labelExpr": "'m = ' + datum.label", "labelFontSize": 6.5, "symbolSize": 35, "clipHeight": 7, "rowPadding": 1.6}},
               "opacity": {"field": "b", "type": "nominal", "scale": {"domain": ["a", "d"], "range": [1, 0.45]}, "legend": null}}},
            {"data": {"values": [{"t": "mFe@EPS-HCP₈₀₀", "x": 0.55, "y": 280}]},
             "mark": {"type": "text", "font": "DejaVu Sans", "fontWeight": "bold", "fontSize": 8.5},
             "encoding": {"x": {"field": "x", "type": "quantitative"}, "y": {"field": "y", "type": "quantitative"}, "text": {"field": "t"}}}
          ]
        },
        {
          "title": {"text": "(d)", "dx": -10, "offset": 5},
          "width": 106, "height": 184,
          "resolve": {"legend": {"color": "independent"}},
          "layer": [
            {"data": {"name": "bjh"},
             "mark": {"type": "line", "strokeWidth": 0.8, "opacity": 0.35},
             "encoding": {
               "x": {"field": "x", "type": "quantitative", "scale": {"domain": [25, 45], "nice": false}, "axis": {"title": "Pore size (Å)", "values": [25, 30, 35, 40, 45], "tickCount": 20, "format": "d", "titleFontSize": 11, "labelFlush": false, "labelOverlap": false}},
               "y": {"field": "y", "type": "quantitative", "scale": {"domain": [0, 4], "nice": false}, "axis": {"title": "dv/dlog(D) Pore volume (cm³ g⁻¹)", "values": [0, 1, 2, 3, 4], "tickCount": 20, "format": "d", "titleFontSize": 11, "titlePadding": 10}},
               "color": {"field": "s", "type": "nominal", "scale": {"domain": ["0", "1", "3", "5", "7"], "range": ["#505050", "#27a844", "#1c5fe6", "#ee2a2a", "#a663f0"]}, "legend": null}}},
            {"data": {"name": "bjh"},
             "mark": {"type": "point", "filled": true, "size": 60, "stroke": "#fff", "strokeWidth": 0.6, "opacity": 1},
             "encoding": {
               "x": {"field": "x", "type": "quantitative"},
               "y": {"field": "y", "type": "quantitative"},
               "color": {"field": "s", "type": "nominal", "legend": {"orient": "none", "legendX": 4, "legendY": 25, "labelExpr": "'m = ' + datum.label", "labelFontSize": 8, "symbolSize": 48, "clipHeight": 8, "rowPadding": 0.5}}}},
            {"data": {"values": [{"t": "mFe@EPS-HCP₈₀₀", "x": 34.2, "y": 3.74}]},
             "mark": {"type": "text", "font": "DejaVu Sans", "fontWeight": "bold", "fontSize": 8.5},
             "encoding": {"x": {"field": "x", "type": "quantitative"}, "y": {"field": "y", "type": "quantitative"}, "text": {"field": "t"}}}
          ]
        },
        {
          "title": {"text": "(e)", "dx": -2, "offset": 5},
          "width": 102, "height": 184,
          "resolve": {"legend": {"color": "independent"}},
          "layer": [
            {"data": {"name": "hk"},
             "mark": {"type": "line", "strokeWidth": 0.8, "opacity": 0.35},
             "encoding": {
               "x": {"field": "x", "type": "quantitative", "scale": {"type": "log", "domain": [3, 10], "nice": false}, "axis": {"title": "Pore width (Å)", "values": [3, 4, 5, 6, 7, 8, 9, 10], "tickCount": 20, "format": "d", "titleFontSize": 11, "labelFlush": false, "labelOverlap": false}},
               "y": {"field": "y", "type": "quantitative", "scale": {"domain": [0, 0.1], "nice": false}, "axis": {"title": "Smoothed dV/dw (cm³ g⁻¹ Å⁻¹)", "values": [0, 0.02, 0.04, 0.06, 0.08, 0.1], "tickCount": 20, "format": "~g", "titleFontSize": 11, "titlePadding": 2}},
               "color": {"field": "s", "type": "nominal", "scale": {"domain": ["0", "1", "3", "5", "7"], "range": ["#505050", "#27a844", "#1c5fe6", "#ee2a2a", "#a663f0"]}, "legend": null}}},
            {"data": {"name": "hk"},
             "mark": {"type": "point", "filled": true, "size": 60, "stroke": "#fff", "strokeWidth": 0.6, "opacity": 1},
             "encoding": {
               "x": {"field": "x", "type": "quantitative"},
               "y": {"field": "y", "type": "quantitative"},
               "color": {"field": "s", "type": "nominal", "legend": {"orient": "none", "legendX": 62, "legendY": 38, "labelExpr": "'m = ' + datum.label", "labelFontSize": 8.5, "symbolSize": 48, "clipHeight": 8, "rowPadding": 1.6}}}},
            {"data": {"values": [{"t": "mFe@EPS-HCP₈₀₀", "x": 5.5, "y": 0.0935}]},
             "mark": {"type": "text", "font": "DejaVu Sans", "fontWeight": "bold", "fontSize": 8.5},
             "encoding": {"x": {"field": "x", "type": "quantitative"}, "y": {"field": "y", "type": "quantitative"}, "text": {"field": "t"}}}
          ]
        }
      ]
    }
  ]
}
